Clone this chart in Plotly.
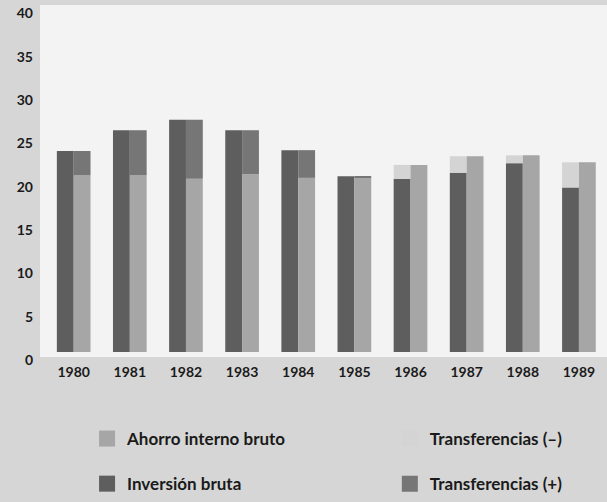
import plotly.graph_objects as go

years = ["1980", "1981", "1982", "1983", "1984", "1985", "1986", "1987", "1988", "1989"]
inversion_bruta = [23.2, 25.6, 26.8, 25.6, 23.3, 20.3, 20.0, 20.7, 21.8, 19.0]
ahorro_interno = [20.4, 20.4, 20.0, 20.5, 20.1, 20.1, 21.6, 22.6, 22.7, 21.9]
transf_pos = [2.8, 5.2, 6.8, 5.1, 3.2, 0.2, 0.0, 0.0, 0.0, 0.0]
transf_neg = [0.0, 0.0, 0.0, 0.0, 0.0, 0.0, 1.6, 1.9, 0.9, 2.9]
y_ticks = [0, 5, 10, 15, 20, 25, 30, 35, 40]

C_INV = "#5e5e5e"
C_AHO = "#a6a6a6"
C_POS = "#767676"
C_NEG = "#d4d4d4"
BW = 0.30

fig = go.Figure()
fig.add_trace(go.Bar(x=years, y=inversion_bruta, offset=-BW, width=BW,
                     marker=dict(color=C_INV, line=dict(width=0)), showlegend=False,
                     name="Inversión bruta"))
fig.add_trace(go.Bar(x=years, y=transf_neg, base=inversion_bruta, offset=-BW, width=BW,
                     marker=dict(color=C_NEG, line=dict(width=0)), showlegend=False,
                     name="Transferencias (–)"))
fig.add_trace(go.Bar(x=years, y=ahorro_interno, offset=0, width=BW,
                     marker=dict(color=C_AHO, line=dict(width=0)), showlegend=False,
                     name="Ahorro interno bruto"))
fig.add_trace(go.Bar(x=years, y=transf_pos, base=ahorro_interno, offset=0, width=BW,
                     marker=dict(color=C_POS, line=dict(width=0)), showlegend=False,
                     name="Transferencias (+)"))

# legend entries (square swatches)
def leg(name, color, legend, group):
    fig.add_trace(go.Scatter(x=[None], y=[None], mode="markers", name=name,
                             marker=dict(symbol="square", size=16, color=color, line=dict(width=0)),
                             legend=legend, legendgroup=group, showlegend=True))

leg("Ahorro interno bruto", C_AHO, "legend", "a")
leg("Inversión bruta", C_INV, "legend", "b")
leg("Transferencias (–)", C_NEG, "legend2", "c")
leg("Transferencias (+)", C_POS, "legend2", "d")

font = dict(family="Lato", size=14, color="#1a1a1a", weight="bold")
legfont = dict(family="Lato", size=17, color="#1a1a1a", weight="bold")

fig.update_layout(
    width=607, height=502,
    margin=dict(l=40, r=0, t=5, b=142),
    paper_bgcolor="#d6d6d6",
    plot_bgcolor="#f3f3f3",
    barmode="overlay",
    font=font,
    xaxis=dict(type="category", range=[-0.6, 9.5], showgrid=False, showline=False,
               zeroline=False, ticks="", tickfont=font, ticklabelstandoff=5,
               automargin=False),
    yaxis=dict(range=[-0.57, 40.05], tickvals=y_ticks, showgrid=False, showline=False,
               zeroline=False, ticks="", tickfont=font, ticklabelstandoff=6,
               ticklabelshift=8, automargin=False),
    legend=dict(x=0.083, y=-0.183, xanchor="left", yanchor="top", orientation="v",
                bgcolor="rgba(0,0,0,0)", font=legfont, tracegroupgap=20,
                itemsizing="trace"),
    legend2=dict(x=0.617, y=-0.183, xanchor="left", yanchor="top", orientation="v",
                 bgcolor="rgba(0,0,0,0)", font=legfont, tracegroupgap=20,
                 itemsizing="trace"),
)

fig.write_html("out.html",
               config={"displayModeBar": False},
               post_script="document.body.style.margin='0';document.body.style.overflow='hidden';")
